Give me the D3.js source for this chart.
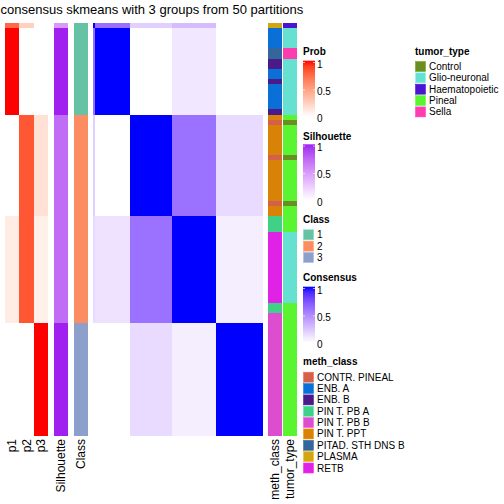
<!DOCTYPE html>
<html><head><meta charset="utf-8">
<script src="https://cdn.jsdelivr.net/npm/d3@7"></script>
<style>body{margin:0;background:#fff}svg{display:block;font-family:"Liberation Sans",Arial,sans-serif}</style>
</head><body><svg id="c" width="504" height="504"></svg>
<script>
// ---- data ----
const blockNames = ["b0", "b1", "b2", "b3", "b4"];
const blockSizes = [1, 17, 20, 21, 22];
const blockClass = ["1", "1", "2", "2", "3"];
const blockP1 = [0.75, 1, 0, 0.1, 0];
const blockP2 = [0.25, 0, 0.82, 0.82, 0];
const blockP3 = [0, 0, 0.16, 0.08, 1];
const blockSil = [0.5, 1, 0.72, 0.72, 1];
const consensusRows = [
  [1, 0.62, 0.2, 0.28, 0],
  [0.62, 1, 0, 0.1, 0],
  [0.2, 0, 1, 0.6, 0.15],
  [0.15, 0.12, 0.6, 1, 0.07],
  [0, 0, 0.15, 0.07, 1]
];
const methRuns = [["PLASMA",1],["ENB. A",4],["PITAD. STH DNS B",2],["ENB. B",2],["ENB. A",2],["ENB. B",1],["ENB. A",5],["ENB. B",1],
  ["PIN T. PPT",1],["CONTR. PINEAL",1],["PIN T. PPT",6],["CONTR. PINEAL",1],["PIN T. PPT",8],["CONTR. PINEAL",1],["PIN T. PPT",2],
  ["PIN T. PB A",3],["RETB",14],["PIN T. PB A",2],["PIN T. PB B",2],["PIN T. PB B",22]];
const tumorRuns = [["Haematopoietic",1],["Glio-neuronal",4],["Sella",2],["Glio-neuronal",11],
  ["Pineal",1],["Control",1],["Pineal",6],["Control",1],["Pineal",8],["Control",1],["Pineal",2],
  ["Pineal",3],["Glio-neuronal",14],["Pineal",26]];
const classLevels = ["1", "2", "3"];
const classColors = ["#66C2A5", "#FC8D62", "#8DA0CB"];
const methLevels = ["CONTR. PINEAL","ENB. A","ENB. B","PIN T. PB A","PIN T. PB B","PIN T. PPT","PITAD. STH DNS B","PLASMA","RETB"];
const methColors = ["#D4604A","#0B6FD8","#4A1A88","#40D088","#DD4DD0","#D98208","#33669A","#D4A512","#E022E6"];
const tumorLevels = ["Control","Glio-neuronal","Haematopoietic","Pineal","Sella"];
const tumorColors = ["#6A8E22","#66E0D0","#4A14D0","#5AF530","#FE3CB0"];
const probCols = ["p1", "p2", "p3"];
const legendTicks = [0, 0.5, 1];
const title = "consensus skmeans with 3 groups from 50 partitions";

(function(){
// ---- expand to samples ----
const samples = [];
blockSizes.forEach((n, b) => { for (let i = 0; i < n; i++) samples.push({block: b}); });
function expand(runs, key){ let k = 0; runs.forEach(([v, n]) => { for (let i = 0; i < n; i++) samples[k++][key] = v; }); }
expand(methRuns, "meth"); expand(tumorRuns, "tumor");
samples.forEach((s, i) => { s.id = i; s.cls = blockClass[s.block]; s.p1 = blockP1[s.block]; s.p2 = blockP2[s.block]; s.p3 = blockP3[s.block]; s.sil = blockSil[s.block]; });
const ids = samples.map(s => s.id);

const svg = d3.select("#c");
const topY = 23, bottomY = 435;
const y = d3.scaleBand().domain(ids).range([topY, bottomY]);
const xHeat = d3.scaleBand().domain(ids).range([92.7, 262]);
const xProb = d3.scaleBand().domain(probCols).range([5, 48]);
const probColor = d3.scaleLinear().domain([0, 1]).range(["#ffffff", "#ff0000"]).interpolate(d3.interpolateLab);
const silColor = d3.scaleLinear().domain([0, 1]).range(["#ffffff", "#A020F0"]).interpolate(d3.interpolateLab);
const consColor = d3.scaleLinear().domain([0, 1]).range(["#ffffff", "#0000ff"]).interpolate(d3.interpolateLab);
const classColor = d3.scaleOrdinal(classLevels, classColors);
const methColor = d3.scaleOrdinal(methLevels, methColors);
const tumorColor = d3.scaleOrdinal(tumorLevels, tumorColors);

// title
svg.append("text").attr("x", 0.5).attr("y", 14).attr("font-size", 13).text(title);

const body = svg.append("g").attr("shape-rendering", "crispEdges");
// prob columns
probCols.forEach(p => {
  body.append("g").selectAll("rect").data(samples).join("rect")
    .attr("x", xProb(p)).attr("width", xProb.bandwidth())
    .attr("y", d => y(d.id)).attr("height", y.bandwidth() + 0.5)
    .attr("fill", d => probColor(d[p]));
});
// silhouette
body.append("g").selectAll("rect").data(samples).join("rect")
  .attr("x", 54).attr("width", 14).attr("y", d => y(d.id)).attr("height", y.bandwidth() + 0.5)
  .attr("fill", d => silColor(d.sil));
// class
body.append("g").selectAll("rect").data(samples).join("rect")
  .attr("x", 74).attr("width", 14).attr("y", d => y(d.id)).attr("height", y.bandwidth() + 0.5)
  .attr("fill", d => classColor(d.cls));
// consensus heatmap
const cells = [];
samples.forEach(r => samples.forEach(c => cells.push({r, c, v: consensusRows[r.block][c.block]})));
body.append("g").selectAll("rect").data(cells).join("rect")
  .attr("x", d => xHeat(d.c.id)).attr("width", xHeat.bandwidth() + 0.5)
  .attr("y", d => y(d.r.id)).attr("height", y.bandwidth() + 0.5)
  .attr("fill", d => consColor(d.v));
// meth_class, tumor_type
body.append("g").selectAll("rect").data(samples).join("rect")
  .attr("x", 268).attr("width", 14).attr("y", d => y(d.id)).attr("height", y.bandwidth() + 0.5)
  .attr("fill", d => methColor(d.meth));
body.append("g").selectAll("rect").data(samples).join("rect")
  .attr("x", 283).attr("width", 14).attr("y", d => y(d.id)).attr("height", y.bandwidth() + 0.5)
  .attr("fill", d => tumorColor(d.tumor));

// bottom labels
const bottomLabels = [["p1", xProb("p1") + xProb.bandwidth()/2], ["p2", xProb("p2") + xProb.bandwidth()/2], ["p3", xProb("p3") + xProb.bandwidth()/2],
  ["Silhouette", 61], ["Class", 81], ["meth_class", 275], ["tumor_type", 290]];
bottomLabels.forEach(([t, cx]) => {
  svg.append("text").attr("transform", `translate(${cx + 4.2},${bottomY + 4}) rotate(-90)`)
    .attr("text-anchor", "end").attr("font-size", 12).text(t);
});

// legends
function gradLegend(name, x, ty, barTop, barBot, color, id){
  svg.append("text").attr("x", x).attr("y", ty).attr("dy", "0.35em").attr("font-size", 10).attr("font-weight", "bold").text(name);
  const grad = svg.append("defs").append("linearGradient").attr("id", id).attr("x1", 0).attr("x2", 0).attr("y1", 1).attr("y2", 0);
  d3.range(0, 1.0001, 0.1).forEach(t => grad.append("stop").attr("offset", t).attr("stop-color", color(t)));
  svg.append("rect").attr("x", x).attr("y", barTop).attr("width", 12).attr("height", barBot - barTop).attr("fill", `url(#${id})`);
  const s = d3.scaleLinear().domain([0, 1]).range([barBot + 2, barTop + 3.3]);
  legendTicks.forEach(v => {
    svg.append("text").attr("x", x + 14).attr("y", s(v)).attr("dy", "0.35em").attr("font-size", 10).text(v);
    if (v > 0) {
      const ty2 = s(v) - 1.5;
      svg.append("line").attr("x1", x).attr("x2", x + 2).attr("y1", ty2).attr("y2", ty2).attr("stroke", "#fff").attr("stroke-width", 0.8).attr("opacity", 0.8);
      svg.append("line").attr("x1", x + 10).attr("x2", x + 12).attr("y1", ty2).attr("y2", ty2).attr("stroke", "#fff").attr("stroke-width", 0.8).attr("opacity", 0.8);
    }
  });
}
function catLegend(name, x, ty, firstTop, levels, color){
  svg.append("text").attr("x", x).attr("y", ty).attr("dy", "0.35em").attr("font-size", 10).attr("font-weight", "bold").text(name);
  levels.forEach((l, i) => {
    const yy = firstTop + i * 11.35;
    svg.append("rect").attr("x", x + 0.5).attr("y", yy + 0.5).attr("width", 10).attr("height", 10)
      .attr("fill", color(l)).attr("stroke", d3.color(color(l)).brighter(0.4)).attr("stroke-width", 0.6);
    svg.append("text").attr("x", x + 14).attr("y", yy + 5.5).attr("dy", "0.35em").attr("font-size", 10).text(l);
  });
}
gradLegend("Prob", 303, 51.7, 60.7, 116.7, probColor, "gp");
gradLegend("Silhouette", 303, 136, 144.3, 200.3, silColor, "gs");
catLegend("Class", 303, 219, 229.3, classLevels, classColor);
gradLegend("Consensus", 303, 277.7, 286.7, 342.7, consColor, "gc");
catLegend("meth_class", 303, 361.7, 371.7, methLevels, methColor);
catLegend("tumor_type", 415, 51.7, 61, tumorLevels, tumorColor);
})();
</script></body></html>
